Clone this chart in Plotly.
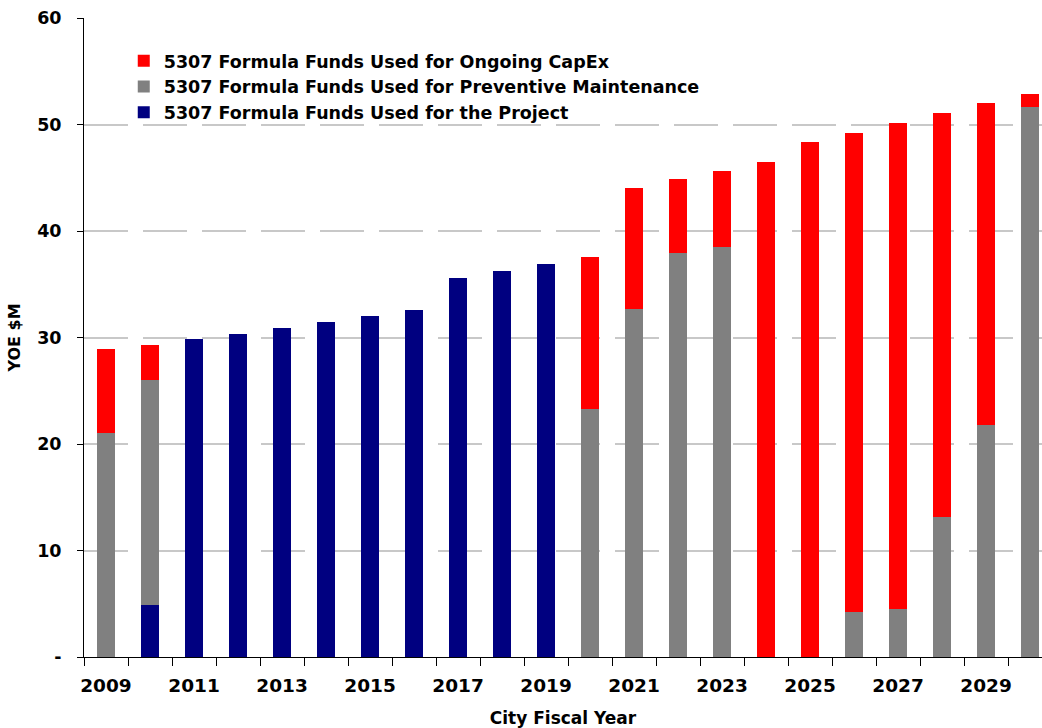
import plotly.graph_objects as go

years = [str(y) for y in range(2009, 2031)]

# segment heights in YOE $M (bottom to top: project, preventive maintenance, capex)
project = [0, 4.9, 29.9, 30.3, 30.9, 31.5, 32.0, 32.6, 35.6, 36.2, 36.9,
           0, 0, 0, 0, 0, 0, 0, 0, 0, 0, 0]
prev_maint = [21.0, 21.1, 0, 0, 0, 0, 0, 0, 0, 0, 0,
              23.3, 32.7, 37.9, 38.5, 0, 0, 4.2, 4.5, 13.1, 21.8, 51.6]
capex = [7.9, 3.3, 0, 0, 0, 0, 0, 0, 0, 0, 0,
         14.3, 11.3, 7.0, 7.1, 46.5, 48.4, 45.0, 45.6, 38.0, 30.2, 1.3]

tick_text = [y if i % 2 == 0 else "" for i, y in enumerate(years)]
y_ticks = [0, 10, 20, 30, 40, 50, 60]
y_labels = ["-", "10", "20", "30", "40", "50", "60"]

font_family = "Tahoma, DejaVu Sans, sans-serif"

fig = go.Figure()
fig.add_trace(go.Bar(x=years, y=project, name="5307 Formula Funds Used for the Project",
                     marker=dict(color="#000080", line=dict(width=0))))
fig.add_trace(go.Bar(x=years, y=prev_maint, name="5307 Formula Funds Used for Preventive Maintenance",
                     marker=dict(color="#808080", line=dict(width=0))))
fig.add_trace(go.Bar(x=years, y=capex, name="5307 Formula Funds Used for Ongoing CapEx",
                     marker=dict(color="#ff0000", line=dict(width=0))))

fig.update_layout(
    barmode="stack",
    bargap=0.59,
    width=1042,
    height=728,
    plot_bgcolor="white",
    paper_bgcolor="white",
    margin=dict(l=84, r=0, t=18, b=71),
    font=dict(family=font_family, size=16, color="black"),
    legend=dict(
        x=0.0415, y=0.961, xanchor="left", yanchor="top",
        traceorder="reversed",
        font=dict(family=font_family, size=17.5, color="black", weight="bold"),
        bgcolor="rgba(0,0,0,0)",
        itemsizing="constant",
        tracegroupgap=0,
    ),
    xaxis=dict(
        type="category",
        range=[-0.5, 21.27],
        automargin=False,
        tickmode="array",
        tickvals=years,
        ticktext=tick_text,
        tickangle=0,
        tickson="boundaries",
        ticks="outside",
        ticklen=8,
        tickcolor="black",
        ticklabelstandoff=12,
        showline=True,
        linecolor="black",
        linewidth=1,
        showgrid=False,
        tickfont=dict(family=font_family, size=18.5, weight="bold"),
        title=dict(text="<b>City Fiscal Year</b>", font=dict(family=font_family, size=17), standoff=17),
    ),
    yaxis=dict(
        range=[0, 60],
        automargin=False,
        tickmode="array",
        tickvals=y_ticks,
        ticktext=y_labels,
        ticks="outside",
        ticklen=6,
        tickcolor="black",
        ticklabelstandoff=12,
        showline=True,
        linecolor="black",
        linewidth=1,
        showgrid=True,
        gridcolor="#c8c8c8",
        gridwidth=2,
        griddash="44px,15px",
        zeroline=False,
        tickfont=dict(family=font_family, size=17.5, weight="bold"),
        title=dict(text="<b>YOE $M</b>", font=dict(family=font_family, size=16), standoff=12),
    ),
)

# drop the default body margin so the 1042x728 figure fills the window exactly
fig.write_html("out.html", config={"displayModeBar": False},
               post_script="document.body.style.margin = '0';")
